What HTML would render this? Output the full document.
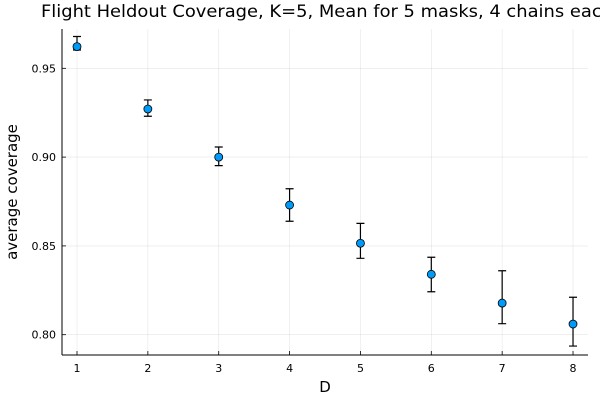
<!DOCTYPE html>
<html><head><meta charset="utf-8"><style>
body{margin:0;background:#fff}
svg{display:block;font-family:"DejaVu Sans","Liberation Sans",sans-serif}
</style></head><body>
<svg id="chart" width="600" height="400" viewBox="0 0 600 400">
<rect width="600" height="400" fill="#fff"/>
<text x="41" y="17" font-size="17" fill="#000" textLength="572" lengthAdjust="spacingAndGlyphs">Flight Heldout Coverage, K=5, Mean for 5 masks, 4 chains each</text>
<g id="grid"></g>
<g id="axes"></g>
<g id="marks"></g>
<text x="325" y="392" font-size="15" text-anchor="middle">D</text>
<text transform="translate(17,192) rotate(-90)" font-size="15" text-anchor="middle">average coverage</text>
</svg>
<script>
const categories = [1,2,3,4,5,6,7,8];
const means = [0.9622,0.9271,0.9000,0.8730,0.8515,0.8340,0.8178,0.8060];
const lowers = [0.9603,0.9230,0.8952,0.8639,0.8430,0.8242,0.8062,0.7936];
const uppers = [0.9679,0.9322,0.9057,0.8822,0.8627,0.8436,0.8360,0.8211];
const xTicks = [1,2,3,4,5,6,7,8];
const yTicks = [0.80,0.85,0.90,0.95];
const yTickLabels = ["0.80","0.85","0.90","0.95"];

const NS="http://www.w3.org/2000/svg";
const L=62,R=588,T=29,B=355;
function xs(v){return 77+(v-1)*70.86;}
function ys(v){return 334.7-(v-0.8)*1776;}
function mk(tag,attrs,parent){const e=document.createElementNS(NS,tag);for(const k in attrs)e.setAttribute(k,attrs[k]);parent.appendChild(e);return e;}
const grid=document.getElementById('grid'),axes=document.getElementById('axes'),marks=document.getElementById('marks');
xTicks.forEach(t=>{
  const g=mk('line',{x1:xs(t),x2:xs(t),y1:T,y2:B,stroke:'#000','stroke-opacity':0.1,'stroke-width':0.6},grid);
  
  
  const tk=mk('line',{x1:xs(t),x2:xs(t),y1:B,y2:B-4,stroke:'#000','stroke-width':0.8},axes);
  
  
  const tx=mk('text',{x:xs(t),y:372,'font-size':11,'text-anchor':'middle'},axes);
  tx.textContent=t;
  
  
});
yTicks.forEach((t,i)=>{
  const g=mk('line',{x1:L,x2:R,y1:ys(t),y2:ys(t),stroke:'#000','stroke-opacity':0.1,'stroke-width':0.6},grid);
  
  
  const tk=mk('line',{x1:L,x2:L+4,y1:ys(t),y2:ys(t),stroke:'#000','stroke-width':0.8},axes);
  
  
  const tx=mk('text',{x:56,y:ys(t)+4,'font-size':11,'text-anchor':'end'},axes);
  tx.textContent=yTickLabels[i];
  
  
});
const xa=mk('line',{x1:L,x2:R,y1:B,y2:B,stroke:'#000','stroke-width':1},axes);


const ya=mk('line',{x1:L,x2:L,y1:T,y2:B,stroke:'#000','stroke-width':1},axes);


categories.forEach((c,i)=>{
  const x=xs(c);
  const eb=mk('path',{d:`M${x} ${ys(uppers[i])}V${ys(lowers[i])}M${x-4} ${ys(uppers[i])}H${x+4}M${x-4} ${ys(lowers[i])}H${x+4}`,stroke:'#000','stroke-width':1.2,fill:'none'},marks);
  
  
});
categories.forEach((c,i)=>{
  const p=mk('circle',{cx:xs(c),cy:ys(means[i]),r:4,fill:'#009af9',stroke:'#000','stroke-width':0.8},marks);
  
  
});
</script>
</body></html>
